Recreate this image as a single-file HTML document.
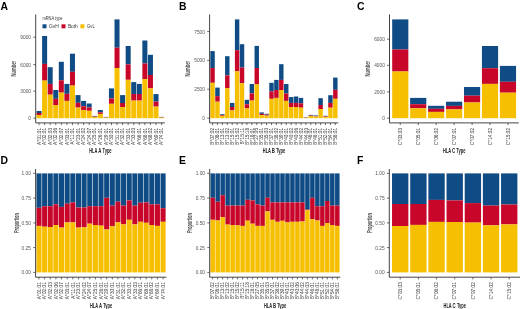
<!DOCTYPE html><html><head><meta charset="utf-8"><style>html,body{margin:0;padding:0;background:#fff;}svg{display:block;will-change:transform;filter:blur(0.3px);}</style></head><body>
<svg width="520" height="309" viewBox="0 0 520 309" font-family='"Liberation Sans", sans-serif'>
<rect width="520" height="309" fill="#fff"/>
<rect x="36.54" y="111" width="5.01" height="2" fill="#0F4B84"/>
<rect x="36.54" y="113" width="5.01" height="2" fill="#C8062A"/>
<rect x="36.54" y="115" width="5.01" height="3.2" fill="#F6BF00"/>
<rect x="42.11" y="36" width="5.01" height="27.9" fill="#0F4B84"/>
<rect x="42.11" y="63.9" width="5.01" height="16.7" fill="#C8062A"/>
<rect x="42.11" y="80.6" width="5.01" height="37.6" fill="#F6BF00"/>
<rect x="47.68" y="67.2" width="5.01" height="16.7" fill="#0F4B84"/>
<rect x="47.68" y="83.9" width="5.01" height="10.8" fill="#C8062A"/>
<rect x="47.68" y="94.7" width="5.01" height="23.5" fill="#F6BF00"/>
<rect x="53.25" y="90" width="5.01" height="8.8" fill="#0F4B84"/>
<rect x="53.25" y="98.8" width="5.01" height="6.2" fill="#C8062A"/>
<rect x="53.25" y="105" width="5.01" height="13.2" fill="#F6BF00"/>
<rect x="58.82" y="61.8" width="5.01" height="18.5" fill="#0F4B84"/>
<rect x="58.82" y="80.3" width="5.01" height="12.3" fill="#C8062A"/>
<rect x="58.82" y="92.6" width="5.01" height="25.6" fill="#F6BF00"/>
<rect x="64.39" y="83.9" width="5.01" height="9.9" fill="#0F4B84"/>
<rect x="64.39" y="93.8" width="5.01" height="7.1" fill="#C8062A"/>
<rect x="64.39" y="100.9" width="5.01" height="17.3" fill="#F6BF00"/>
<rect x="69.96" y="53.7" width="5.01" height="18.1" fill="#0F4B84"/>
<rect x="69.96" y="71.8" width="5.01" height="13.8" fill="#C8062A"/>
<rect x="69.96" y="85.6" width="5.01" height="32.6" fill="#F6BF00"/>
<rect x="75.53" y="95.1" width="5.01" height="7.7" fill="#0F4B84"/>
<rect x="75.53" y="102.8" width="5.01" height="4.8" fill="#C8062A"/>
<rect x="75.53" y="107.6" width="5.01" height="10.6" fill="#F6BF00"/>
<rect x="81.1" y="100.9" width="5.01" height="5.4" fill="#0F4B84"/>
<rect x="81.1" y="106.3" width="5.01" height="3.8" fill="#C8062A"/>
<rect x="81.1" y="110.1" width="5.01" height="8.1" fill="#F6BF00"/>
<rect x="86.67" y="103.5" width="5.01" height="3.9" fill="#0F4B84"/>
<rect x="86.67" y="107.4" width="5.01" height="3.4" fill="#C8062A"/>
<rect x="86.67" y="110.8" width="5.01" height="7.4" fill="#F6BF00"/>
<rect x="92.24" y="115.9" width="5.01" height="0.6" fill="#0F4B84"/>
<rect x="92.24" y="116.5" width="5.01" height="0.4" fill="#C8062A"/>
<rect x="92.24" y="116.9" width="5.01" height="1.3" fill="#F6BF00"/>
<rect x="97.81" y="110" width="5.01" height="2.3" fill="#0F4B84"/>
<rect x="97.81" y="112.3" width="5.01" height="1.6" fill="#C8062A"/>
<rect x="97.81" y="113.9" width="5.01" height="4.3" fill="#F6BF00"/>
<rect x="103.38" y="116.9" width="5.01" height="0.4" fill="#0F4B84"/>
<rect x="103.38" y="117.3" width="5.01" height="0.3" fill="#C8062A"/>
<rect x="103.38" y="117.6" width="5.01" height="0.6" fill="#F6BF00"/>
<rect x="108.95" y="88.4" width="5.01" height="10" fill="#0F4B84"/>
<rect x="108.95" y="98.4" width="5.01" height="5.4" fill="#C8062A"/>
<rect x="108.95" y="103.8" width="5.01" height="14.4" fill="#F6BF00"/>
<rect x="114.52" y="19.4" width="5.01" height="28.3" fill="#0F4B84"/>
<rect x="114.52" y="47.7" width="5.01" height="20.3" fill="#C8062A"/>
<rect x="114.52" y="68" width="5.01" height="50.2" fill="#F6BF00"/>
<rect x="120.09" y="95.1" width="5.01" height="7.9" fill="#0F4B84"/>
<rect x="120.09" y="103" width="5.01" height="4" fill="#C8062A"/>
<rect x="120.09" y="107" width="5.01" height="11.2" fill="#F6BF00"/>
<rect x="125.66" y="46" width="5.01" height="18.4" fill="#0F4B84"/>
<rect x="125.66" y="64.4" width="5.01" height="15.4" fill="#C8062A"/>
<rect x="125.66" y="79.8" width="5.01" height="38.4" fill="#F6BF00"/>
<rect x="131.23" y="82.1" width="5.01" height="11.9" fill="#0F4B84"/>
<rect x="131.23" y="94" width="5.01" height="6.6" fill="#C8062A"/>
<rect x="131.23" y="100.6" width="5.01" height="17.6" fill="#F6BF00"/>
<rect x="136.8" y="83.9" width="5.01" height="10.1" fill="#0F4B84"/>
<rect x="136.8" y="94" width="5.01" height="6.6" fill="#C8062A"/>
<rect x="136.8" y="100.6" width="5.01" height="17.6" fill="#F6BF00"/>
<rect x="142.37" y="40.5" width="5.01" height="23" fill="#0F4B84"/>
<rect x="142.37" y="63.5" width="5.01" height="15.6" fill="#C8062A"/>
<rect x="142.37" y="79.1" width="5.01" height="39.1" fill="#F6BF00"/>
<rect x="147.94" y="54.8" width="5.01" height="20.2" fill="#0F4B84"/>
<rect x="147.94" y="75" width="5.01" height="13.4" fill="#C8062A"/>
<rect x="147.94" y="88.4" width="5.01" height="29.8" fill="#F6BF00"/>
<rect x="153.51" y="94.1" width="5.01" height="7.5" fill="#0F4B84"/>
<rect x="153.51" y="101.6" width="5.01" height="5" fill="#C8062A"/>
<rect x="153.51" y="106.6" width="5.01" height="11.6" fill="#F6BF00"/>
<rect x="159.08" y="116.9" width="5.01" height="0.4" fill="#0F4B84"/>
<rect x="159.08" y="117.3" width="5.01" height="0.3" fill="#C8062A"/>
<rect x="159.08" y="117.6" width="5.01" height="0.6" fill="#F6BF00"/>
<path d="M35.7 14.4V122.9H164.9" fill="none" stroke="#454545" stroke-width="1"/>
<line x1="33.3" y1="118.2" x2="35.7" y2="118.2" stroke="#454545" stroke-width="0.8"/>
<text x="31" y="120.2" text-anchor="end" font-size="4.8" fill="#555555">0</text>
<line x1="33.3" y1="91.2" x2="35.7" y2="91.2" stroke="#454545" stroke-width="0.8"/>
<text x="31" y="93.2" text-anchor="end" font-size="4.8" fill="#555555">3000</text>
<line x1="33.3" y1="64.6" x2="35.7" y2="64.6" stroke="#454545" stroke-width="0.8"/>
<text x="31" y="66.6" text-anchor="end" font-size="4.8" fill="#555555">6000</text>
<line x1="33.3" y1="37.2" x2="35.7" y2="37.2" stroke="#454545" stroke-width="0.8"/>
<text x="31" y="39.2" text-anchor="end" font-size="4.8" fill="#555555">9000</text>
<line x1="39.04" y1="122.9" x2="39.04" y2="125.1" stroke="#454545" stroke-width="0.8"/>
<text transform="translate(40.74 127.8) rotate(-90)" text-anchor="end" font-size="4.8" fill="#3d3d3d">A*01:01</text>
<line x1="44.61" y1="122.9" x2="44.61" y2="125.1" stroke="#454545" stroke-width="0.8"/>
<text transform="translate(46.31 127.8) rotate(-90)" text-anchor="end" font-size="4.8" fill="#3d3d3d">A*02:01</text>
<line x1="50.18" y1="122.9" x2="50.18" y2="125.1" stroke="#454545" stroke-width="0.8"/>
<text transform="translate(51.88 127.8) rotate(-90)" text-anchor="end" font-size="4.8" fill="#3d3d3d">A*02:03</text>
<line x1="55.75" y1="122.9" x2="55.75" y2="125.1" stroke="#454545" stroke-width="0.8"/>
<text transform="translate(57.45 127.8) rotate(-90)" text-anchor="end" font-size="4.8" fill="#3d3d3d">A*02:06</text>
<line x1="61.32" y1="122.9" x2="61.32" y2="125.1" stroke="#454545" stroke-width="0.8"/>
<text transform="translate(63.02 127.8) rotate(-90)" text-anchor="end" font-size="4.8" fill="#3d3d3d">A*02:07</text>
<line x1="66.89" y1="122.9" x2="66.89" y2="125.1" stroke="#454545" stroke-width="0.8"/>
<text transform="translate(68.59 127.8) rotate(-90)" text-anchor="end" font-size="4.8" fill="#3d3d3d">A*03:01</text>
<line x1="72.46" y1="122.9" x2="72.46" y2="125.1" stroke="#454545" stroke-width="0.8"/>
<text transform="translate(74.16 127.8) rotate(-90)" text-anchor="end" font-size="4.8" fill="#3d3d3d">A*11:01</text>
<line x1="78.03" y1="122.9" x2="78.03" y2="125.1" stroke="#454545" stroke-width="0.8"/>
<text transform="translate(79.73 127.8) rotate(-90)" text-anchor="end" font-size="4.8" fill="#3d3d3d">A*23:01</text>
<line x1="83.6" y1="122.9" x2="83.6" y2="125.1" stroke="#454545" stroke-width="0.8"/>
<text transform="translate(85.3 127.8) rotate(-90)" text-anchor="end" font-size="4.8" fill="#3d3d3d">A*24:02</text>
<line x1="89.17" y1="122.9" x2="89.17" y2="125.1" stroke="#454545" stroke-width="0.8"/>
<text transform="translate(90.87 127.8) rotate(-90)" text-anchor="end" font-size="4.8" fill="#3d3d3d">A*24:07</text>
<line x1="94.74" y1="122.9" x2="94.74" y2="125.1" stroke="#454545" stroke-width="0.8"/>
<text transform="translate(96.44 127.8) rotate(-90)" text-anchor="end" font-size="4.8" fill="#3d3d3d">A*25:01</text>
<line x1="100.31" y1="122.9" x2="100.31" y2="125.1" stroke="#454545" stroke-width="0.8"/>
<text transform="translate(102.01 127.8) rotate(-90)" text-anchor="end" font-size="4.8" fill="#3d3d3d">A*26:01</text>
<line x1="105.88" y1="122.9" x2="105.88" y2="125.1" stroke="#454545" stroke-width="0.8"/>
<text transform="translate(107.58 127.8) rotate(-90)" text-anchor="end" font-size="4.8" fill="#3d3d3d">A*29:01</text>
<line x1="111.45" y1="122.9" x2="111.45" y2="125.1" stroke="#454545" stroke-width="0.8"/>
<text transform="translate(113.15 127.8) rotate(-90)" text-anchor="end" font-size="4.8" fill="#3d3d3d">A*30:01</text>
<line x1="117.02" y1="122.9" x2="117.02" y2="125.1" stroke="#454545" stroke-width="0.8"/>
<text transform="translate(118.72 127.8) rotate(-90)" text-anchor="end" font-size="4.8" fill="#3d3d3d">A*31:01</text>
<line x1="122.59" y1="122.9" x2="122.59" y2="125.1" stroke="#454545" stroke-width="0.8"/>
<text transform="translate(124.29 127.8) rotate(-90)" text-anchor="end" font-size="4.8" fill="#3d3d3d">A*32:01</text>
<line x1="128.16" y1="122.9" x2="128.16" y2="125.1" stroke="#454545" stroke-width="0.8"/>
<text transform="translate(129.86 127.8) rotate(-90)" text-anchor="end" font-size="4.8" fill="#3d3d3d">A*33:01</text>
<line x1="133.73" y1="122.9" x2="133.73" y2="125.1" stroke="#454545" stroke-width="0.8"/>
<text transform="translate(135.43 127.8) rotate(-90)" text-anchor="end" font-size="4.8" fill="#3d3d3d">A*33:03</text>
<line x1="139.3" y1="122.9" x2="139.3" y2="125.1" stroke="#454545" stroke-width="0.8"/>
<text transform="translate(141 127.8) rotate(-90)" text-anchor="end" font-size="4.8" fill="#3d3d3d">A*66:01</text>
<line x1="144.87" y1="122.9" x2="144.87" y2="125.1" stroke="#454545" stroke-width="0.8"/>
<text transform="translate(146.57 127.8) rotate(-90)" text-anchor="end" font-size="4.8" fill="#3d3d3d">A*68:01</text>
<line x1="150.44" y1="122.9" x2="150.44" y2="125.1" stroke="#454545" stroke-width="0.8"/>
<text transform="translate(152.14 127.8) rotate(-90)" text-anchor="end" font-size="4.8" fill="#3d3d3d">A*68:02</text>
<line x1="156.01" y1="122.9" x2="156.01" y2="125.1" stroke="#454545" stroke-width="0.8"/>
<text transform="translate(157.71 127.8) rotate(-90)" text-anchor="end" font-size="4.8" fill="#3d3d3d">A*69:01</text>
<line x1="161.58" y1="122.9" x2="161.58" y2="125.1" stroke="#454545" stroke-width="0.8"/>
<text transform="translate(163.28 127.8) rotate(-90)" text-anchor="end" font-size="4.8" fill="#3d3d3d">A*74:01</text>
<text x="89.2" y="153.4" font-size="6.8" font-weight="bold" fill="#222" textLength="8.1" lengthAdjust="spacingAndGlyphs">HLA</text>
<text x="98.2" y="153.4" font-size="6.8" font-weight="bold" fill="#222" textLength="3.1" lengthAdjust="spacingAndGlyphs">A</text>
<text x="102.5" y="153.4" font-size="6.8" font-weight="bold" fill="#222" textLength="9.1" lengthAdjust="spacingAndGlyphs">Type</text>
<text transform="translate(16.2 68.65) rotate(-90)" text-anchor="middle" font-size="6.5" font-weight="bold" fill="#4a4a4a" textLength="15.5" lengthAdjust="spacingAndGlyphs">Number</text>
<text x="0.4" y="9.7" font-size="10.4" font-weight="bold" fill="#000">A</text>
<rect x="210.34" y="51.1" width="4.42" height="16.9" fill="#0F4B84"/>
<rect x="210.34" y="68" width="4.42" height="14.8" fill="#C8062A"/>
<rect x="210.34" y="82.8" width="4.42" height="35.4" fill="#F6BF00"/>
<rect x="215.25" y="87.6" width="4.42" height="8.5" fill="#0F4B84"/>
<rect x="215.25" y="96.1" width="4.42" height="5.6" fill="#C8062A"/>
<rect x="215.25" y="101.7" width="4.42" height="16.5" fill="#F6BF00"/>
<rect x="220.16" y="114.2" width="4.42" height="0.8" fill="#0F4B84"/>
<rect x="220.16" y="115" width="4.42" height="0.8" fill="#C8062A"/>
<rect x="220.16" y="115.8" width="4.42" height="2.4" fill="#F6BF00"/>
<rect x="225.07" y="56.2" width="4.42" height="19.2" fill="#0F4B84"/>
<rect x="225.07" y="75.4" width="4.42" height="12.8" fill="#C8062A"/>
<rect x="225.07" y="88.2" width="4.42" height="30" fill="#F6BF00"/>
<rect x="229.98" y="102.9" width="4.42" height="4.1" fill="#0F4B84"/>
<rect x="229.98" y="107" width="4.42" height="3.4" fill="#C8062A"/>
<rect x="229.98" y="110.4" width="4.42" height="7.8" fill="#F6BF00"/>
<rect x="234.9" y="19.4" width="4.42" height="30.8" fill="#0F4B84"/>
<rect x="234.9" y="50.2" width="4.42" height="21.1" fill="#C8062A"/>
<rect x="234.9" y="71.3" width="4.42" height="46.9" fill="#F6BF00"/>
<rect x="239.81" y="44.2" width="4.42" height="23.4" fill="#0F4B84"/>
<rect x="239.81" y="67.6" width="4.42" height="15.6" fill="#C8062A"/>
<rect x="239.81" y="83.2" width="4.42" height="35" fill="#F6BF00"/>
<rect x="244.72" y="99.8" width="4.42" height="4.5" fill="#0F4B84"/>
<rect x="244.72" y="104.3" width="4.42" height="4.1" fill="#C8062A"/>
<rect x="244.72" y="108.4" width="4.42" height="9.8" fill="#F6BF00"/>
<rect x="249.63" y="84" width="4.42" height="9.4" fill="#0F4B84"/>
<rect x="249.63" y="93.4" width="4.42" height="7.2" fill="#C8062A"/>
<rect x="249.63" y="100.6" width="4.42" height="17.6" fill="#F6BF00"/>
<rect x="254.54" y="45.9" width="4.42" height="22.1" fill="#0F4B84"/>
<rect x="254.54" y="68" width="4.42" height="16.4" fill="#C8062A"/>
<rect x="254.54" y="84.4" width="4.42" height="33.8" fill="#F6BF00"/>
<rect x="259.46" y="112.4" width="4.42" height="1.4" fill="#0F4B84"/>
<rect x="259.46" y="113.8" width="4.42" height="1.3" fill="#C8062A"/>
<rect x="259.46" y="115.1" width="4.42" height="3.1" fill="#F6BF00"/>
<rect x="264.37" y="113.8" width="4.42" height="0.9" fill="#0F4B84"/>
<rect x="264.37" y="114.7" width="4.42" height="0.9" fill="#C8062A"/>
<rect x="264.37" y="115.6" width="4.42" height="2.6" fill="#F6BF00"/>
<rect x="269.28" y="82.8" width="4.42" height="8.6" fill="#0F4B84"/>
<rect x="269.28" y="91.4" width="4.42" height="7.4" fill="#C8062A"/>
<rect x="269.28" y="98.8" width="4.42" height="19.4" fill="#F6BF00"/>
<rect x="274.19" y="79.9" width="4.42" height="10.1" fill="#0F4B84"/>
<rect x="274.19" y="90" width="4.42" height="7.9" fill="#C8062A"/>
<rect x="274.19" y="97.9" width="4.42" height="20.3" fill="#F6BF00"/>
<rect x="279.1" y="64.2" width="4.42" height="15.7" fill="#0F4B84"/>
<rect x="279.1" y="79.9" width="4.42" height="10.1" fill="#C8062A"/>
<rect x="279.1" y="90" width="4.42" height="28.2" fill="#F6BF00"/>
<rect x="284.02" y="84" width="4.42" height="9.5" fill="#0F4B84"/>
<rect x="284.02" y="93.5" width="4.42" height="7.4" fill="#C8062A"/>
<rect x="284.02" y="100.9" width="4.42" height="17.3" fill="#F6BF00"/>
<rect x="288.93" y="97.1" width="4.42" height="5.8" fill="#0F4B84"/>
<rect x="288.93" y="102.9" width="4.42" height="4.1" fill="#C8062A"/>
<rect x="288.93" y="107" width="4.42" height="11.2" fill="#F6BF00"/>
<rect x="293.84" y="96.5" width="4.42" height="6.4" fill="#0F4B84"/>
<rect x="293.84" y="102.9" width="4.42" height="4.1" fill="#C8062A"/>
<rect x="293.84" y="107" width="4.42" height="11.2" fill="#F6BF00"/>
<rect x="298.75" y="97.9" width="4.42" height="5.4" fill="#0F4B84"/>
<rect x="298.75" y="103.3" width="4.42" height="4.4" fill="#C8062A"/>
<rect x="298.75" y="107.7" width="4.42" height="10.5" fill="#F6BF00"/>
<rect x="303.66" y="117.2" width="4.42" height="0.3" fill="#0F4B84"/>
<rect x="303.66" y="117.5" width="4.42" height="0.3" fill="#C8062A"/>
<rect x="303.66" y="117.8" width="4.42" height="0.4" fill="#F6BF00"/>
<rect x="308.58" y="114.9" width="4.42" height="0.7" fill="#0F4B84"/>
<rect x="308.58" y="115.6" width="4.42" height="0.4" fill="#C8062A"/>
<rect x="308.58" y="116" width="4.42" height="2.2" fill="#F6BF00"/>
<rect x="313.49" y="115.4" width="4.42" height="0.6" fill="#0F4B84"/>
<rect x="313.49" y="116" width="4.42" height="0.5" fill="#C8062A"/>
<rect x="313.49" y="116.5" width="4.42" height="1.7" fill="#F6BF00"/>
<rect x="318.4" y="98.2" width="4.42" height="6.8" fill="#0F4B84"/>
<rect x="318.4" y="105" width="4.42" height="4" fill="#C8062A"/>
<rect x="318.4" y="109" width="4.42" height="9.2" fill="#F6BF00"/>
<rect x="323.31" y="115.8" width="4.42" height="0.6" fill="#0F4B84"/>
<rect x="323.31" y="116.4" width="4.42" height="0.5" fill="#C8062A"/>
<rect x="323.31" y="116.9" width="4.42" height="1.3" fill="#F6BF00"/>
<rect x="328.22" y="95.2" width="4.42" height="7.7" fill="#0F4B84"/>
<rect x="328.22" y="102.9" width="4.42" height="4.8" fill="#C8062A"/>
<rect x="328.22" y="107.7" width="4.42" height="10.5" fill="#F6BF00"/>
<rect x="333.14" y="77.6" width="4.42" height="12.2" fill="#0F4B84"/>
<rect x="333.14" y="89.8" width="4.42" height="9" fill="#C8062A"/>
<rect x="333.14" y="98.8" width="4.42" height="19.4" fill="#F6BF00"/>
<path d="M209.6 14.4V122.9H338.3" fill="none" stroke="#454545" stroke-width="1"/>
<line x1="207.2" y1="118.2" x2="209.6" y2="118.2" stroke="#454545" stroke-width="0.8"/>
<text x="204.9" y="120.2" text-anchor="end" font-size="4.8" fill="#555555">0</text>
<line x1="207.2" y1="89.2" x2="209.6" y2="89.2" stroke="#454545" stroke-width="0.8"/>
<text x="204.9" y="91.2" text-anchor="end" font-size="4.8" fill="#555555">2500</text>
<line x1="207.2" y1="60.4" x2="209.6" y2="60.4" stroke="#454545" stroke-width="0.8"/>
<text x="204.9" y="62.4" text-anchor="end" font-size="4.8" fill="#555555">5000</text>
<line x1="207.2" y1="31.6" x2="209.6" y2="31.6" stroke="#454545" stroke-width="0.8"/>
<text x="204.9" y="33.6" text-anchor="end" font-size="4.8" fill="#555555">7500</text>
<line x1="212.55" y1="122.9" x2="212.55" y2="125.1" stroke="#454545" stroke-width="0.8"/>
<text transform="translate(214.25 127.8) rotate(-90)" text-anchor="end" font-size="4.8" fill="#3d3d3d">B*07:02</text>
<line x1="217.46" y1="122.9" x2="217.46" y2="125.1" stroke="#454545" stroke-width="0.8"/>
<text transform="translate(219.16 127.8) rotate(-90)" text-anchor="end" font-size="4.8" fill="#3d3d3d">B*08:01</text>
<line x1="222.37" y1="122.9" x2="222.37" y2="125.1" stroke="#454545" stroke-width="0.8"/>
<text transform="translate(224.07 127.8) rotate(-90)" text-anchor="end" font-size="4.8" fill="#3d3d3d">B*13:01</text>
<line x1="227.28" y1="122.9" x2="227.28" y2="125.1" stroke="#454545" stroke-width="0.8"/>
<text transform="translate(228.98 127.8) rotate(-90)" text-anchor="end" font-size="4.8" fill="#3d3d3d">B*13:02</text>
<line x1="232.2" y1="122.9" x2="232.2" y2="125.1" stroke="#454545" stroke-width="0.8"/>
<text transform="translate(233.9 127.8) rotate(-90)" text-anchor="end" font-size="4.8" fill="#3d3d3d">B*15:01</text>
<line x1="237.11" y1="122.9" x2="237.11" y2="125.1" stroke="#454545" stroke-width="0.8"/>
<text transform="translate(238.81 127.8) rotate(-90)" text-anchor="end" font-size="4.8" fill="#3d3d3d">B*15:02</text>
<line x1="242.02" y1="122.9" x2="242.02" y2="125.1" stroke="#454545" stroke-width="0.8"/>
<text transform="translate(243.72 127.8) rotate(-90)" text-anchor="end" font-size="4.8" fill="#3d3d3d">B*15:11</text>
<line x1="246.93" y1="122.9" x2="246.93" y2="125.1" stroke="#454545" stroke-width="0.8"/>
<text transform="translate(248.63 127.8) rotate(-90)" text-anchor="end" font-size="4.8" fill="#3d3d3d">B*15:18</text>
<line x1="251.84" y1="122.9" x2="251.84" y2="125.1" stroke="#454545" stroke-width="0.8"/>
<text transform="translate(253.54 127.8) rotate(-90)" text-anchor="end" font-size="4.8" fill="#3d3d3d">B*18:01</text>
<line x1="256.76" y1="122.9" x2="256.76" y2="125.1" stroke="#454545" stroke-width="0.8"/>
<text transform="translate(258.46 127.8) rotate(-90)" text-anchor="end" font-size="4.8" fill="#3d3d3d">B*27:05</text>
<line x1="261.67" y1="122.9" x2="261.67" y2="125.1" stroke="#454545" stroke-width="0.8"/>
<text transform="translate(263.37 127.8) rotate(-90)" text-anchor="end" font-size="4.8" fill="#3d3d3d">B*35:01</text>
<line x1="266.58" y1="122.9" x2="266.58" y2="125.1" stroke="#454545" stroke-width="0.8"/>
<text transform="translate(268.28 127.8) rotate(-90)" text-anchor="end" font-size="4.8" fill="#3d3d3d">B*35:03</text>
<line x1="271.49" y1="122.9" x2="271.49" y2="125.1" stroke="#454545" stroke-width="0.8"/>
<text transform="translate(273.19 127.8) rotate(-90)" text-anchor="end" font-size="4.8" fill="#3d3d3d">B*37:01</text>
<line x1="276.4" y1="122.9" x2="276.4" y2="125.1" stroke="#454545" stroke-width="0.8"/>
<text transform="translate(278.1 127.8) rotate(-90)" text-anchor="end" font-size="4.8" fill="#3d3d3d">B*38:02</text>
<line x1="281.32" y1="122.9" x2="281.32" y2="125.1" stroke="#454545" stroke-width="0.8"/>
<text transform="translate(283.02 127.8) rotate(-90)" text-anchor="end" font-size="4.8" fill="#3d3d3d">B*39:01</text>
<line x1="286.23" y1="122.9" x2="286.23" y2="125.1" stroke="#454545" stroke-width="0.8"/>
<text transform="translate(287.93 127.8) rotate(-90)" text-anchor="end" font-size="4.8" fill="#3d3d3d">B*40:01</text>
<line x1="291.14" y1="122.9" x2="291.14" y2="125.1" stroke="#454545" stroke-width="0.8"/>
<text transform="translate(292.84 127.8) rotate(-90)" text-anchor="end" font-size="4.8" fill="#3d3d3d">B*40:02</text>
<line x1="296.05" y1="122.9" x2="296.05" y2="125.1" stroke="#454545" stroke-width="0.8"/>
<text transform="translate(297.75 127.8) rotate(-90)" text-anchor="end" font-size="4.8" fill="#3d3d3d">B*40:06</text>
<line x1="300.96" y1="122.9" x2="300.96" y2="125.1" stroke="#454545" stroke-width="0.8"/>
<text transform="translate(302.66 127.8) rotate(-90)" text-anchor="end" font-size="4.8" fill="#3d3d3d">B*44:02</text>
<line x1="305.88" y1="122.9" x2="305.88" y2="125.1" stroke="#454545" stroke-width="0.8"/>
<text transform="translate(307.58 127.8) rotate(-90)" text-anchor="end" font-size="4.8" fill="#3d3d3d">B*44:03</text>
<line x1="310.79" y1="122.9" x2="310.79" y2="125.1" stroke="#454545" stroke-width="0.8"/>
<text transform="translate(312.49 127.8) rotate(-90)" text-anchor="end" font-size="4.8" fill="#3d3d3d">B*46:01</text>
<line x1="315.7" y1="122.9" x2="315.7" y2="125.1" stroke="#454545" stroke-width="0.8"/>
<text transform="translate(317.4 127.8) rotate(-90)" text-anchor="end" font-size="4.8" fill="#3d3d3d">B*48:01</text>
<line x1="320.61" y1="122.9" x2="320.61" y2="125.1" stroke="#454545" stroke-width="0.8"/>
<text transform="translate(322.31 127.8) rotate(-90)" text-anchor="end" font-size="4.8" fill="#3d3d3d">B*51:01</text>
<line x1="325.52" y1="122.9" x2="325.52" y2="125.1" stroke="#454545" stroke-width="0.8"/>
<text transform="translate(327.22 127.8) rotate(-90)" text-anchor="end" font-size="4.8" fill="#3d3d3d">B*52:01</text>
<line x1="330.44" y1="122.9" x2="330.44" y2="125.1" stroke="#454545" stroke-width="0.8"/>
<text transform="translate(332.14 127.8) rotate(-90)" text-anchor="end" font-size="4.8" fill="#3d3d3d">B*54:01</text>
<line x1="335.35" y1="122.9" x2="335.35" y2="125.1" stroke="#454545" stroke-width="0.8"/>
<text transform="translate(337.05 127.8) rotate(-90)" text-anchor="end" font-size="4.8" fill="#3d3d3d">B*58:01</text>
<text x="262.85" y="153.4" font-size="6.8" font-weight="bold" fill="#222" textLength="8.1" lengthAdjust="spacingAndGlyphs">HLA</text>
<text x="271.85" y="153.4" font-size="6.8" font-weight="bold" fill="#222" textLength="3.1" lengthAdjust="spacingAndGlyphs">B</text>
<text x="276.15" y="153.4" font-size="6.8" font-weight="bold" fill="#222" textLength="9.1" lengthAdjust="spacingAndGlyphs">Type</text>
<text transform="translate(190.1 68.65) rotate(-90)" text-anchor="middle" font-size="6.5" font-weight="bold" fill="#4a4a4a" textLength="15.5" lengthAdjust="spacingAndGlyphs">Number</text>
<text x="179" y="9.7" font-size="10.4" font-weight="bold" fill="#000">B</text>
<rect x="392.19" y="19.4" width="16.16" height="30.1" fill="#0F4B84"/>
<rect x="392.19" y="49.5" width="16.16" height="22" fill="#C8062A"/>
<rect x="392.19" y="71.5" width="16.16" height="46.7" fill="#F6BF00"/>
<rect x="410.14" y="97.9" width="16.16" height="6.3" fill="#0F4B84"/>
<rect x="410.14" y="104.2" width="16.16" height="4.1" fill="#C8062A"/>
<rect x="410.14" y="108.3" width="16.16" height="9.9" fill="#F6BF00"/>
<rect x="428.09" y="105.8" width="16.16" height="3" fill="#0F4B84"/>
<rect x="428.09" y="108.8" width="16.16" height="3.1" fill="#C8062A"/>
<rect x="428.09" y="111.9" width="16.16" height="6.3" fill="#F6BF00"/>
<rect x="446.04" y="101.7" width="16.16" height="4.2" fill="#0F4B84"/>
<rect x="446.04" y="105.9" width="16.16" height="3.5" fill="#C8062A"/>
<rect x="446.04" y="109.4" width="16.16" height="8.8" fill="#F6BF00"/>
<rect x="463.99" y="87" width="16.16" height="8.7" fill="#0F4B84"/>
<rect x="463.99" y="95.7" width="16.16" height="6.8" fill="#C8062A"/>
<rect x="463.99" y="102.5" width="16.16" height="15.7" fill="#F6BF00"/>
<rect x="481.94" y="46" width="16.16" height="22.2" fill="#0F4B84"/>
<rect x="481.94" y="68.2" width="16.16" height="15.7" fill="#C8062A"/>
<rect x="481.94" y="83.9" width="16.16" height="34.3" fill="#F6BF00"/>
<rect x="499.89" y="65.9" width="16.16" height="15.9" fill="#0F4B84"/>
<rect x="499.89" y="81.8" width="16.16" height="10.9" fill="#C8062A"/>
<rect x="499.89" y="92.7" width="16.16" height="25.5" fill="#F6BF00"/>
<path d="M389.5 14.4V122.9H518.7" fill="none" stroke="#454545" stroke-width="1"/>
<line x1="387.1" y1="118.2" x2="389.5" y2="118.2" stroke="#454545" stroke-width="0.8"/>
<text x="384.8" y="120.2" text-anchor="end" font-size="4.8" fill="#555555">0</text>
<line x1="387.1" y1="91.9" x2="389.5" y2="91.9" stroke="#454545" stroke-width="0.8"/>
<text x="384.8" y="93.9" text-anchor="end" font-size="4.8" fill="#555555">2000</text>
<line x1="387.1" y1="65.3" x2="389.5" y2="65.3" stroke="#454545" stroke-width="0.8"/>
<text x="384.8" y="67.3" text-anchor="end" font-size="4.8" fill="#555555">4000</text>
<line x1="387.1" y1="39.2" x2="389.5" y2="39.2" stroke="#454545" stroke-width="0.8"/>
<text x="384.8" y="41.2" text-anchor="end" font-size="4.8" fill="#555555">6000</text>
<line x1="400.27" y1="122.9" x2="400.27" y2="125.1" stroke="#454545" stroke-width="0.8"/>
<text transform="translate(401.97 127.8) rotate(-90)" text-anchor="end" font-size="4.8" fill="#3d3d3d">C*03:03</text>
<line x1="418.22" y1="122.9" x2="418.22" y2="125.1" stroke="#454545" stroke-width="0.8"/>
<text transform="translate(419.92 127.8) rotate(-90)" text-anchor="end" font-size="4.8" fill="#3d3d3d">C*05:01</text>
<line x1="436.17" y1="122.9" x2="436.17" y2="125.1" stroke="#454545" stroke-width="0.8"/>
<text transform="translate(437.87 127.8) rotate(-90)" text-anchor="end" font-size="4.8" fill="#3d3d3d">C*06:02</text>
<line x1="454.12" y1="122.9" x2="454.12" y2="125.1" stroke="#454545" stroke-width="0.8"/>
<text transform="translate(455.82 127.8) rotate(-90)" text-anchor="end" font-size="4.8" fill="#3d3d3d">C*07:01</text>
<line x1="472.07" y1="122.9" x2="472.07" y2="125.1" stroke="#454545" stroke-width="0.8"/>
<text transform="translate(473.77 127.8) rotate(-90)" text-anchor="end" font-size="4.8" fill="#3d3d3d">C*07:02</text>
<line x1="490.02" y1="122.9" x2="490.02" y2="125.1" stroke="#454545" stroke-width="0.8"/>
<text transform="translate(491.72 127.8) rotate(-90)" text-anchor="end" font-size="4.8" fill="#3d3d3d">C*14:02</text>
<line x1="507.97" y1="122.9" x2="507.97" y2="125.1" stroke="#454545" stroke-width="0.8"/>
<text transform="translate(509.67 127.8) rotate(-90)" text-anchor="end" font-size="4.8" fill="#3d3d3d">C*15:02</text>
<text x="443" y="153.4" font-size="6.8" font-weight="bold" fill="#222" textLength="8.1" lengthAdjust="spacingAndGlyphs">HLA</text>
<text x="452" y="153.4" font-size="6.8" font-weight="bold" fill="#222" textLength="3.1" lengthAdjust="spacingAndGlyphs">C</text>
<text x="456.3" y="153.4" font-size="6.8" font-weight="bold" fill="#222" textLength="9.1" lengthAdjust="spacingAndGlyphs">Type</text>
<text transform="translate(370 68.65) rotate(-90)" text-anchor="middle" font-size="6.5" font-weight="bold" fill="#4a4a4a" textLength="15.5" lengthAdjust="spacingAndGlyphs">Number</text>
<text x="357" y="9.7" font-size="10.4" font-weight="bold" fill="#000">C</text>
<rect x="36.45" y="173.4" width="5.08" height="34.4" fill="#0F4B84"/>
<rect x="36.45" y="207.8" width="5.08" height="18.1" fill="#C8062A"/>
<rect x="36.45" y="225.9" width="5.08" height="46.5" fill="#F6BF00"/>
<rect x="42.09" y="173.4" width="5.08" height="32.8" fill="#0F4B84"/>
<rect x="42.09" y="206.2" width="5.08" height="20.5" fill="#C8062A"/>
<rect x="42.09" y="226.7" width="5.08" height="45.7" fill="#F6BF00"/>
<rect x="47.73" y="173.4" width="5.08" height="32.8" fill="#0F4B84"/>
<rect x="47.73" y="206.2" width="5.08" height="20.8" fill="#C8062A"/>
<rect x="47.73" y="227" width="5.08" height="45.4" fill="#F6BF00"/>
<rect x="53.37" y="173.4" width="5.08" height="30.9" fill="#0F4B84"/>
<rect x="53.37" y="204.3" width="5.08" height="20.7" fill="#C8062A"/>
<rect x="53.37" y="225" width="5.08" height="47.4" fill="#F6BF00"/>
<rect x="59.01" y="173.4" width="5.08" height="33.5" fill="#0F4B84"/>
<rect x="59.01" y="206.9" width="5.08" height="20.7" fill="#C8062A"/>
<rect x="59.01" y="227.6" width="5.08" height="44.8" fill="#F6BF00"/>
<rect x="64.65" y="173.4" width="5.08" height="30.3" fill="#0F4B84"/>
<rect x="64.65" y="203.7" width="5.08" height="18.7" fill="#C8062A"/>
<rect x="64.65" y="222.4" width="5.08" height="50" fill="#F6BF00"/>
<rect x="70.29" y="173.4" width="5.08" height="29" fill="#0F4B84"/>
<rect x="70.29" y="202.4" width="5.08" height="20" fill="#C8062A"/>
<rect x="70.29" y="222.4" width="5.08" height="50" fill="#F6BF00"/>
<rect x="75.93" y="173.4" width="5.08" height="34.1" fill="#0F4B84"/>
<rect x="75.93" y="207.5" width="5.08" height="20.1" fill="#C8062A"/>
<rect x="75.93" y="227.6" width="5.08" height="44.8" fill="#F6BF00"/>
<rect x="81.57" y="173.4" width="5.08" height="34.1" fill="#0F4B84"/>
<rect x="81.57" y="207.5" width="5.08" height="19.8" fill="#C8062A"/>
<rect x="81.57" y="227.3" width="5.08" height="45.1" fill="#F6BF00"/>
<rect x="87.21" y="173.4" width="5.08" height="32.8" fill="#0F4B84"/>
<rect x="87.21" y="206.2" width="5.08" height="17.5" fill="#C8062A"/>
<rect x="87.21" y="223.7" width="5.08" height="48.7" fill="#F6BF00"/>
<rect x="92.85" y="173.4" width="5.08" height="32.8" fill="#0F4B84"/>
<rect x="92.85" y="206.2" width="5.08" height="18.8" fill="#C8062A"/>
<rect x="92.85" y="225" width="5.08" height="47.4" fill="#F6BF00"/>
<rect x="98.49" y="173.4" width="5.08" height="32.8" fill="#0F4B84"/>
<rect x="98.49" y="206.2" width="5.08" height="19.5" fill="#C8062A"/>
<rect x="98.49" y="225.7" width="5.08" height="46.7" fill="#F6BF00"/>
<rect x="104.13" y="173.4" width="5.08" height="24.4" fill="#0F4B84"/>
<rect x="104.13" y="197.8" width="5.08" height="31.7" fill="#C8062A"/>
<rect x="104.13" y="229.5" width="5.08" height="42.9" fill="#F6BF00"/>
<rect x="109.77" y="173.4" width="5.08" height="32.2" fill="#0F4B84"/>
<rect x="109.77" y="205.6" width="5.08" height="20.7" fill="#C8062A"/>
<rect x="109.77" y="226.3" width="5.08" height="46.1" fill="#F6BF00"/>
<rect x="115.41" y="173.4" width="5.08" height="28.3" fill="#0F4B84"/>
<rect x="115.41" y="201.7" width="5.08" height="20.7" fill="#C8062A"/>
<rect x="115.41" y="222.4" width="5.08" height="50" fill="#F6BF00"/>
<rect x="121.05" y="173.4" width="5.08" height="32.2" fill="#0F4B84"/>
<rect x="121.05" y="205.6" width="5.08" height="18.8" fill="#C8062A"/>
<rect x="121.05" y="224.4" width="5.08" height="48" fill="#F6BF00"/>
<rect x="126.69" y="173.4" width="5.08" height="27" fill="#0F4B84"/>
<rect x="126.69" y="200.4" width="5.08" height="19.4" fill="#C8062A"/>
<rect x="126.69" y="219.8" width="5.08" height="52.6" fill="#F6BF00"/>
<rect x="132.33" y="173.4" width="5.08" height="32.2" fill="#0F4B84"/>
<rect x="132.33" y="205.6" width="5.08" height="18.8" fill="#C8062A"/>
<rect x="132.33" y="224.4" width="5.08" height="48" fill="#F6BF00"/>
<rect x="137.97" y="173.4" width="5.08" height="29.3" fill="#0F4B84"/>
<rect x="137.97" y="202.7" width="5.08" height="19.1" fill="#C8062A"/>
<rect x="137.97" y="221.8" width="5.08" height="50.6" fill="#F6BF00"/>
<rect x="143.61" y="173.4" width="5.08" height="29" fill="#0F4B84"/>
<rect x="143.61" y="202.4" width="5.08" height="20.4" fill="#C8062A"/>
<rect x="143.61" y="222.8" width="5.08" height="49.6" fill="#F6BF00"/>
<rect x="149.25" y="173.4" width="5.08" height="30.9" fill="#0F4B84"/>
<rect x="149.25" y="204.3" width="5.08" height="20.7" fill="#C8062A"/>
<rect x="149.25" y="225" width="5.08" height="47.4" fill="#F6BF00"/>
<rect x="154.89" y="173.4" width="5.08" height="30.9" fill="#0F4B84"/>
<rect x="154.89" y="204.3" width="5.08" height="21.6" fill="#C8062A"/>
<rect x="154.89" y="225.9" width="5.08" height="46.5" fill="#F6BF00"/>
<rect x="160.53" y="173.4" width="5.08" height="34.8" fill="#0F4B84"/>
<rect x="160.53" y="208.2" width="5.08" height="13.6" fill="#C8062A"/>
<rect x="160.53" y="221.8" width="5.08" height="50.6" fill="#F6BF00"/>
<path d="M35.6 169V277.2H166.4" fill="none" stroke="#454545" stroke-width="1"/>
<line x1="33.2" y1="272.4" x2="35.6" y2="272.4" stroke="#454545" stroke-width="0.8"/>
<text x="30.9" y="274.4" text-anchor="end" font-size="4.8" fill="#555555">0.00</text>
<line x1="33.2" y1="247.6" x2="35.6" y2="247.6" stroke="#454545" stroke-width="0.8"/>
<text x="30.9" y="249.6" text-anchor="end" font-size="4.8" fill="#555555">0.25</text>
<line x1="33.2" y1="222.9" x2="35.6" y2="222.9" stroke="#454545" stroke-width="0.8"/>
<text x="30.9" y="224.9" text-anchor="end" font-size="4.8" fill="#555555">0.50</text>
<line x1="33.2" y1="198.1" x2="35.6" y2="198.1" stroke="#454545" stroke-width="0.8"/>
<text x="30.9" y="200.1" text-anchor="end" font-size="4.8" fill="#555555">0.75</text>
<line x1="33.2" y1="173.4" x2="35.6" y2="173.4" stroke="#454545" stroke-width="0.8"/>
<text x="30.9" y="175.4" text-anchor="end" font-size="4.8" fill="#555555">1.00</text>
<line x1="38.98" y1="277.2" x2="38.98" y2="279.4" stroke="#454545" stroke-width="0.8"/>
<text transform="translate(40.68 282.1) rotate(-90)" text-anchor="end" font-size="4.8" fill="#3d3d3d">A*01:01</text>
<line x1="44.62" y1="277.2" x2="44.62" y2="279.4" stroke="#454545" stroke-width="0.8"/>
<text transform="translate(46.32 282.1) rotate(-90)" text-anchor="end" font-size="4.8" fill="#3d3d3d">A*02:01</text>
<line x1="50.26" y1="277.2" x2="50.26" y2="279.4" stroke="#454545" stroke-width="0.8"/>
<text transform="translate(51.96 282.1) rotate(-90)" text-anchor="end" font-size="4.8" fill="#3d3d3d">A*02:03</text>
<line x1="55.9" y1="277.2" x2="55.9" y2="279.4" stroke="#454545" stroke-width="0.8"/>
<text transform="translate(57.6 282.1) rotate(-90)" text-anchor="end" font-size="4.8" fill="#3d3d3d">A*02:06</text>
<line x1="61.54" y1="277.2" x2="61.54" y2="279.4" stroke="#454545" stroke-width="0.8"/>
<text transform="translate(63.24 282.1) rotate(-90)" text-anchor="end" font-size="4.8" fill="#3d3d3d">A*02:07</text>
<line x1="67.18" y1="277.2" x2="67.18" y2="279.4" stroke="#454545" stroke-width="0.8"/>
<text transform="translate(68.88 282.1) rotate(-90)" text-anchor="end" font-size="4.8" fill="#3d3d3d">A*03:01</text>
<line x1="72.82" y1="277.2" x2="72.82" y2="279.4" stroke="#454545" stroke-width="0.8"/>
<text transform="translate(74.52 282.1) rotate(-90)" text-anchor="end" font-size="4.8" fill="#3d3d3d">A*11:01</text>
<line x1="78.46" y1="277.2" x2="78.46" y2="279.4" stroke="#454545" stroke-width="0.8"/>
<text transform="translate(80.16 282.1) rotate(-90)" text-anchor="end" font-size="4.8" fill="#3d3d3d">A*23:01</text>
<line x1="84.1" y1="277.2" x2="84.1" y2="279.4" stroke="#454545" stroke-width="0.8"/>
<text transform="translate(85.8 282.1) rotate(-90)" text-anchor="end" font-size="4.8" fill="#3d3d3d">A*24:02</text>
<line x1="89.74" y1="277.2" x2="89.74" y2="279.4" stroke="#454545" stroke-width="0.8"/>
<text transform="translate(91.44 282.1) rotate(-90)" text-anchor="end" font-size="4.8" fill="#3d3d3d">A*24:07</text>
<line x1="95.38" y1="277.2" x2="95.38" y2="279.4" stroke="#454545" stroke-width="0.8"/>
<text transform="translate(97.08 282.1) rotate(-90)" text-anchor="end" font-size="4.8" fill="#3d3d3d">A*25:01</text>
<line x1="101.02" y1="277.2" x2="101.02" y2="279.4" stroke="#454545" stroke-width="0.8"/>
<text transform="translate(102.72 282.1) rotate(-90)" text-anchor="end" font-size="4.8" fill="#3d3d3d">A*26:01</text>
<line x1="106.66" y1="277.2" x2="106.66" y2="279.4" stroke="#454545" stroke-width="0.8"/>
<text transform="translate(108.36 282.1) rotate(-90)" text-anchor="end" font-size="4.8" fill="#3d3d3d">A*29:01</text>
<line x1="112.3" y1="277.2" x2="112.3" y2="279.4" stroke="#454545" stroke-width="0.8"/>
<text transform="translate(114 282.1) rotate(-90)" text-anchor="end" font-size="4.8" fill="#3d3d3d">A*30:01</text>
<line x1="117.94" y1="277.2" x2="117.94" y2="279.4" stroke="#454545" stroke-width="0.8"/>
<text transform="translate(119.64 282.1) rotate(-90)" text-anchor="end" font-size="4.8" fill="#3d3d3d">A*31:01</text>
<line x1="123.58" y1="277.2" x2="123.58" y2="279.4" stroke="#454545" stroke-width="0.8"/>
<text transform="translate(125.28 282.1) rotate(-90)" text-anchor="end" font-size="4.8" fill="#3d3d3d">A*32:01</text>
<line x1="129.22" y1="277.2" x2="129.22" y2="279.4" stroke="#454545" stroke-width="0.8"/>
<text transform="translate(130.92 282.1) rotate(-90)" text-anchor="end" font-size="4.8" fill="#3d3d3d">A*33:01</text>
<line x1="134.86" y1="277.2" x2="134.86" y2="279.4" stroke="#454545" stroke-width="0.8"/>
<text transform="translate(136.56 282.1) rotate(-90)" text-anchor="end" font-size="4.8" fill="#3d3d3d">A*33:03</text>
<line x1="140.5" y1="277.2" x2="140.5" y2="279.4" stroke="#454545" stroke-width="0.8"/>
<text transform="translate(142.2 282.1) rotate(-90)" text-anchor="end" font-size="4.8" fill="#3d3d3d">A*66:01</text>
<line x1="146.14" y1="277.2" x2="146.14" y2="279.4" stroke="#454545" stroke-width="0.8"/>
<text transform="translate(147.84 282.1) rotate(-90)" text-anchor="end" font-size="4.8" fill="#3d3d3d">A*68:01</text>
<line x1="151.78" y1="277.2" x2="151.78" y2="279.4" stroke="#454545" stroke-width="0.8"/>
<text transform="translate(153.48 282.1) rotate(-90)" text-anchor="end" font-size="4.8" fill="#3d3d3d">A*68:02</text>
<line x1="157.42" y1="277.2" x2="157.42" y2="279.4" stroke="#454545" stroke-width="0.8"/>
<text transform="translate(159.12 282.1) rotate(-90)" text-anchor="end" font-size="4.8" fill="#3d3d3d">A*69:01</text>
<line x1="163.06" y1="277.2" x2="163.06" y2="279.4" stroke="#454545" stroke-width="0.8"/>
<text transform="translate(164.76 282.1) rotate(-90)" text-anchor="end" font-size="4.8" fill="#3d3d3d">A*74:01</text>
<text x="89.9" y="307.7" font-size="6.8" font-weight="bold" fill="#222" textLength="8.1" lengthAdjust="spacingAndGlyphs">HLA</text>
<text x="98.9" y="307.7" font-size="6.8" font-weight="bold" fill="#222" textLength="3.1" lengthAdjust="spacingAndGlyphs">A</text>
<text x="103.2" y="307.7" font-size="6.8" font-weight="bold" fill="#222" textLength="9.1" lengthAdjust="spacingAndGlyphs">Type</text>
<text transform="translate(18.6 223.1) rotate(-90)" text-anchor="middle" font-size="6.5" font-weight="bold" fill="#4a4a4a" textLength="20.0" lengthAdjust="spacingAndGlyphs">Proportion</text>
<text x="0.4" y="164.3" font-size="10.4" font-weight="bold" fill="#000">D</text>
<rect x="210.45" y="173.4" width="4.49" height="24.4" fill="#0F4B84"/>
<rect x="210.45" y="197.8" width="4.49" height="22" fill="#C8062A"/>
<rect x="210.45" y="219.8" width="4.49" height="52.6" fill="#F6BF00"/>
<rect x="215.43" y="173.4" width="4.49" height="28.3" fill="#0F4B84"/>
<rect x="215.43" y="201.7" width="4.49" height="18.8" fill="#C8062A"/>
<rect x="215.43" y="220.5" width="4.49" height="51.9" fill="#F6BF00"/>
<rect x="220.42" y="173.4" width="4.49" height="21.8" fill="#0F4B84"/>
<rect x="220.42" y="195.2" width="4.49" height="22" fill="#C8062A"/>
<rect x="220.42" y="217.2" width="4.49" height="55.2" fill="#F6BF00"/>
<rect x="225.4" y="173.4" width="4.49" height="32.2" fill="#0F4B84"/>
<rect x="225.4" y="205.6" width="4.49" height="19" fill="#C8062A"/>
<rect x="225.4" y="224.6" width="4.49" height="47.8" fill="#F6BF00"/>
<rect x="230.39" y="173.4" width="4.49" height="32.2" fill="#0F4B84"/>
<rect x="230.39" y="205.6" width="4.49" height="19.4" fill="#C8062A"/>
<rect x="230.39" y="225" width="4.49" height="47.4" fill="#F6BF00"/>
<rect x="235.37" y="173.4" width="4.49" height="32.2" fill="#0F4B84"/>
<rect x="235.37" y="205.6" width="4.49" height="19.8" fill="#C8062A"/>
<rect x="235.37" y="225.4" width="4.49" height="47" fill="#F6BF00"/>
<rect x="240.36" y="173.4" width="4.49" height="32.2" fill="#0F4B84"/>
<rect x="240.36" y="205.6" width="4.49" height="20.3" fill="#C8062A"/>
<rect x="240.36" y="225.9" width="4.49" height="46.5" fill="#F6BF00"/>
<rect x="245.34" y="173.4" width="4.49" height="26.4" fill="#0F4B84"/>
<rect x="245.34" y="199.8" width="4.49" height="20.9" fill="#C8062A"/>
<rect x="245.34" y="220.7" width="4.49" height="51.7" fill="#F6BF00"/>
<rect x="250.33" y="173.4" width="4.49" height="27" fill="#0F4B84"/>
<rect x="250.33" y="200.4" width="4.49" height="23.3" fill="#C8062A"/>
<rect x="250.33" y="223.7" width="4.49" height="48.7" fill="#F6BF00"/>
<rect x="255.31" y="173.4" width="4.49" height="30.9" fill="#0F4B84"/>
<rect x="255.31" y="204.3" width="4.49" height="21.6" fill="#C8062A"/>
<rect x="255.31" y="225.9" width="4.49" height="46.5" fill="#F6BF00"/>
<rect x="260.3" y="173.4" width="4.49" height="32.2" fill="#0F4B84"/>
<rect x="260.3" y="205.6" width="4.49" height="20.3" fill="#C8062A"/>
<rect x="260.3" y="225.9" width="4.49" height="46.5" fill="#F6BF00"/>
<rect x="265.28" y="173.4" width="4.49" height="24.4" fill="#0F4B84"/>
<rect x="265.28" y="197.8" width="4.49" height="13.6" fill="#C8062A"/>
<rect x="265.28" y="211.4" width="4.49" height="61" fill="#F6BF00"/>
<rect x="270.27" y="173.4" width="4.49" height="29" fill="#0F4B84"/>
<rect x="270.27" y="202.4" width="4.49" height="17.4" fill="#C8062A"/>
<rect x="270.27" y="219.8" width="4.49" height="52.6" fill="#F6BF00"/>
<rect x="275.25" y="173.4" width="4.49" height="29" fill="#0F4B84"/>
<rect x="275.25" y="202.4" width="4.49" height="19.4" fill="#C8062A"/>
<rect x="275.25" y="221.8" width="4.49" height="50.6" fill="#F6BF00"/>
<rect x="280.24" y="173.4" width="4.49" height="29" fill="#0F4B84"/>
<rect x="280.24" y="202.4" width="4.49" height="18.4" fill="#C8062A"/>
<rect x="280.24" y="220.8" width="4.49" height="51.6" fill="#F6BF00"/>
<rect x="285.22" y="173.4" width="4.49" height="29" fill="#0F4B84"/>
<rect x="285.22" y="202.4" width="4.49" height="20" fill="#C8062A"/>
<rect x="285.22" y="222.4" width="4.49" height="50" fill="#F6BF00"/>
<rect x="290.21" y="173.4" width="4.49" height="29" fill="#0F4B84"/>
<rect x="290.21" y="202.4" width="4.49" height="19.4" fill="#C8062A"/>
<rect x="290.21" y="221.8" width="4.49" height="50.6" fill="#F6BF00"/>
<rect x="295.19" y="173.4" width="4.49" height="29" fill="#0F4B84"/>
<rect x="295.19" y="202.4" width="4.49" height="19.4" fill="#C8062A"/>
<rect x="295.19" y="221.8" width="4.49" height="50.6" fill="#F6BF00"/>
<rect x="300.18" y="173.4" width="4.49" height="29" fill="#0F4B84"/>
<rect x="300.18" y="202.4" width="4.49" height="19.1" fill="#C8062A"/>
<rect x="300.18" y="221.5" width="4.49" height="50.9" fill="#F6BF00"/>
<rect x="305.16" y="173.4" width="4.49" height="36.1" fill="#0F4B84"/>
<rect x="305.16" y="209.5" width="4.49" height="0.6" fill="#C8062A"/>
<rect x="305.16" y="210.1" width="4.49" height="62.3" fill="#F6BF00"/>
<rect x="310.15" y="173.4" width="4.49" height="24.4" fill="#0F4B84"/>
<rect x="310.15" y="197.8" width="4.49" height="21.4" fill="#C8062A"/>
<rect x="310.15" y="219.2" width="4.49" height="53.2" fill="#F6BF00"/>
<rect x="315.13" y="173.4" width="4.49" height="32.8" fill="#0F4B84"/>
<rect x="315.13" y="206.2" width="4.49" height="14.3" fill="#C8062A"/>
<rect x="315.13" y="220.5" width="4.49" height="51.9" fill="#F6BF00"/>
<rect x="320.12" y="173.4" width="4.49" height="32.8" fill="#0F4B84"/>
<rect x="320.12" y="206.2" width="4.49" height="19.7" fill="#C8062A"/>
<rect x="320.12" y="225.9" width="4.49" height="46.5" fill="#F6BF00"/>
<rect x="325.1" y="173.4" width="4.49" height="27.6" fill="#0F4B84"/>
<rect x="325.1" y="201" width="4.49" height="22.1" fill="#C8062A"/>
<rect x="325.1" y="223.1" width="4.49" height="49.3" fill="#F6BF00"/>
<rect x="330.09" y="173.4" width="4.49" height="32.2" fill="#0F4B84"/>
<rect x="330.09" y="205.6" width="4.49" height="19.4" fill="#C8062A"/>
<rect x="330.09" y="225" width="4.49" height="47.4" fill="#F6BF00"/>
<rect x="335.07" y="173.4" width="4.49" height="32.2" fill="#0F4B84"/>
<rect x="335.07" y="205.6" width="4.49" height="20.3" fill="#C8062A"/>
<rect x="335.07" y="225.9" width="4.49" height="46.5" fill="#F6BF00"/>
<path d="M209.7 169V277.2H340.3" fill="none" stroke="#454545" stroke-width="1"/>
<line x1="207.3" y1="272.4" x2="209.7" y2="272.4" stroke="#454545" stroke-width="0.8"/>
<text x="205" y="274.4" text-anchor="end" font-size="4.8" fill="#555555">0.00</text>
<line x1="207.3" y1="247.6" x2="209.7" y2="247.6" stroke="#454545" stroke-width="0.8"/>
<text x="205" y="249.6" text-anchor="end" font-size="4.8" fill="#555555">0.25</text>
<line x1="207.3" y1="222.9" x2="209.7" y2="222.9" stroke="#454545" stroke-width="0.8"/>
<text x="205" y="224.9" text-anchor="end" font-size="4.8" fill="#555555">0.50</text>
<line x1="207.3" y1="198.1" x2="209.7" y2="198.1" stroke="#454545" stroke-width="0.8"/>
<text x="205" y="200.1" text-anchor="end" font-size="4.8" fill="#555555">0.75</text>
<line x1="207.3" y1="173.4" x2="209.7" y2="173.4" stroke="#454545" stroke-width="0.8"/>
<text x="205" y="175.4" text-anchor="end" font-size="4.8" fill="#555555">1.00</text>
<line x1="212.69" y1="277.2" x2="212.69" y2="279.4" stroke="#454545" stroke-width="0.8"/>
<text transform="translate(214.39 282.1) rotate(-90)" text-anchor="end" font-size="4.8" fill="#3d3d3d">B*07:02</text>
<line x1="217.68" y1="277.2" x2="217.68" y2="279.4" stroke="#454545" stroke-width="0.8"/>
<text transform="translate(219.38 282.1) rotate(-90)" text-anchor="end" font-size="4.8" fill="#3d3d3d">B*08:01</text>
<line x1="222.66" y1="277.2" x2="222.66" y2="279.4" stroke="#454545" stroke-width="0.8"/>
<text transform="translate(224.36 282.1) rotate(-90)" text-anchor="end" font-size="4.8" fill="#3d3d3d">B*13:01</text>
<line x1="227.65" y1="277.2" x2="227.65" y2="279.4" stroke="#454545" stroke-width="0.8"/>
<text transform="translate(229.35 282.1) rotate(-90)" text-anchor="end" font-size="4.8" fill="#3d3d3d">B*13:02</text>
<line x1="232.63" y1="277.2" x2="232.63" y2="279.4" stroke="#454545" stroke-width="0.8"/>
<text transform="translate(234.33 282.1) rotate(-90)" text-anchor="end" font-size="4.8" fill="#3d3d3d">B*15:01</text>
<line x1="237.62" y1="277.2" x2="237.62" y2="279.4" stroke="#454545" stroke-width="0.8"/>
<text transform="translate(239.32 282.1) rotate(-90)" text-anchor="end" font-size="4.8" fill="#3d3d3d">B*15:02</text>
<line x1="242.6" y1="277.2" x2="242.6" y2="279.4" stroke="#454545" stroke-width="0.8"/>
<text transform="translate(244.3 282.1) rotate(-90)" text-anchor="end" font-size="4.8" fill="#3d3d3d">B*15:11</text>
<line x1="247.59" y1="277.2" x2="247.59" y2="279.4" stroke="#454545" stroke-width="0.8"/>
<text transform="translate(249.29 282.1) rotate(-90)" text-anchor="end" font-size="4.8" fill="#3d3d3d">B*15:18</text>
<line x1="252.57" y1="277.2" x2="252.57" y2="279.4" stroke="#454545" stroke-width="0.8"/>
<text transform="translate(254.27 282.1) rotate(-90)" text-anchor="end" font-size="4.8" fill="#3d3d3d">B*18:01</text>
<line x1="257.56" y1="277.2" x2="257.56" y2="279.4" stroke="#454545" stroke-width="0.8"/>
<text transform="translate(259.26 282.1) rotate(-90)" text-anchor="end" font-size="4.8" fill="#3d3d3d">B*27:05</text>
<line x1="262.54" y1="277.2" x2="262.54" y2="279.4" stroke="#454545" stroke-width="0.8"/>
<text transform="translate(264.24 282.1) rotate(-90)" text-anchor="end" font-size="4.8" fill="#3d3d3d">B*35:01</text>
<line x1="267.53" y1="277.2" x2="267.53" y2="279.4" stroke="#454545" stroke-width="0.8"/>
<text transform="translate(269.23 282.1) rotate(-90)" text-anchor="end" font-size="4.8" fill="#3d3d3d">B*35:03</text>
<line x1="272.51" y1="277.2" x2="272.51" y2="279.4" stroke="#454545" stroke-width="0.8"/>
<text transform="translate(274.21 282.1) rotate(-90)" text-anchor="end" font-size="4.8" fill="#3d3d3d">B*37:01</text>
<line x1="277.5" y1="277.2" x2="277.5" y2="279.4" stroke="#454545" stroke-width="0.8"/>
<text transform="translate(279.2 282.1) rotate(-90)" text-anchor="end" font-size="4.8" fill="#3d3d3d">B*38:02</text>
<line x1="282.48" y1="277.2" x2="282.48" y2="279.4" stroke="#454545" stroke-width="0.8"/>
<text transform="translate(284.18 282.1) rotate(-90)" text-anchor="end" font-size="4.8" fill="#3d3d3d">B*39:01</text>
<line x1="287.47" y1="277.2" x2="287.47" y2="279.4" stroke="#454545" stroke-width="0.8"/>
<text transform="translate(289.17 282.1) rotate(-90)" text-anchor="end" font-size="4.8" fill="#3d3d3d">B*40:01</text>
<line x1="292.45" y1="277.2" x2="292.45" y2="279.4" stroke="#454545" stroke-width="0.8"/>
<text transform="translate(294.15 282.1) rotate(-90)" text-anchor="end" font-size="4.8" fill="#3d3d3d">B*40:02</text>
<line x1="297.44" y1="277.2" x2="297.44" y2="279.4" stroke="#454545" stroke-width="0.8"/>
<text transform="translate(299.14 282.1) rotate(-90)" text-anchor="end" font-size="4.8" fill="#3d3d3d">B*40:06</text>
<line x1="302.42" y1="277.2" x2="302.42" y2="279.4" stroke="#454545" stroke-width="0.8"/>
<text transform="translate(304.12 282.1) rotate(-90)" text-anchor="end" font-size="4.8" fill="#3d3d3d">B*44:02</text>
<line x1="307.41" y1="277.2" x2="307.41" y2="279.4" stroke="#454545" stroke-width="0.8"/>
<text transform="translate(309.11 282.1) rotate(-90)" text-anchor="end" font-size="4.8" fill="#3d3d3d">B*44:03</text>
<line x1="312.39" y1="277.2" x2="312.39" y2="279.4" stroke="#454545" stroke-width="0.8"/>
<text transform="translate(314.09 282.1) rotate(-90)" text-anchor="end" font-size="4.8" fill="#3d3d3d">B*46:01</text>
<line x1="317.38" y1="277.2" x2="317.38" y2="279.4" stroke="#454545" stroke-width="0.8"/>
<text transform="translate(319.08 282.1) rotate(-90)" text-anchor="end" font-size="4.8" fill="#3d3d3d">B*48:01</text>
<line x1="322.36" y1="277.2" x2="322.36" y2="279.4" stroke="#454545" stroke-width="0.8"/>
<text transform="translate(324.06 282.1) rotate(-90)" text-anchor="end" font-size="4.8" fill="#3d3d3d">B*51:01</text>
<line x1="327.35" y1="277.2" x2="327.35" y2="279.4" stroke="#454545" stroke-width="0.8"/>
<text transform="translate(329.05 282.1) rotate(-90)" text-anchor="end" font-size="4.8" fill="#3d3d3d">B*52:01</text>
<line x1="332.33" y1="277.2" x2="332.33" y2="279.4" stroke="#454545" stroke-width="0.8"/>
<text transform="translate(334.03 282.1) rotate(-90)" text-anchor="end" font-size="4.8" fill="#3d3d3d">B*54:01</text>
<line x1="337.32" y1="277.2" x2="337.32" y2="279.4" stroke="#454545" stroke-width="0.8"/>
<text transform="translate(339.02 282.1) rotate(-90)" text-anchor="end" font-size="4.8" fill="#3d3d3d">B*58:01</text>
<text x="263.9" y="307.7" font-size="6.8" font-weight="bold" fill="#222" textLength="8.1" lengthAdjust="spacingAndGlyphs">HLA</text>
<text x="272.9" y="307.7" font-size="6.8" font-weight="bold" fill="#222" textLength="3.1" lengthAdjust="spacingAndGlyphs">B</text>
<text x="277.2" y="307.7" font-size="6.8" font-weight="bold" fill="#222" textLength="9.1" lengthAdjust="spacingAndGlyphs">Type</text>
<text transform="translate(192 223.1) rotate(-90)" text-anchor="middle" font-size="6.5" font-weight="bold" fill="#4a4a4a" textLength="20.0" lengthAdjust="spacingAndGlyphs">Proportion</text>
<text x="179" y="164.3" font-size="10.4" font-weight="bold" fill="#000">E</text>
<rect x="392.03" y="173.4" width="16.35" height="30.6" fill="#0F4B84"/>
<rect x="392.03" y="204" width="16.35" height="22" fill="#C8062A"/>
<rect x="392.03" y="226" width="16.35" height="46.4" fill="#F6BF00"/>
<rect x="410.2" y="173.4" width="16.35" height="30.6" fill="#0F4B84"/>
<rect x="410.2" y="204" width="16.35" height="20.9" fill="#C8062A"/>
<rect x="410.2" y="224.9" width="16.35" height="47.5" fill="#F6BF00"/>
<rect x="428.37" y="173.4" width="16.35" height="26.5" fill="#0F4B84"/>
<rect x="428.37" y="199.9" width="16.35" height="22" fill="#C8062A"/>
<rect x="428.37" y="221.9" width="16.35" height="50.5" fill="#F6BF00"/>
<rect x="446.54" y="173.4" width="16.35" height="27" fill="#0F4B84"/>
<rect x="446.54" y="200.4" width="16.35" height="21.6" fill="#C8062A"/>
<rect x="446.54" y="222" width="16.35" height="50.4" fill="#F6BF00"/>
<rect x="464.71" y="173.4" width="16.35" height="29.7" fill="#0F4B84"/>
<rect x="464.71" y="203.1" width="16.35" height="19.5" fill="#C8062A"/>
<rect x="464.71" y="222.6" width="16.35" height="49.8" fill="#F6BF00"/>
<rect x="482.88" y="173.4" width="16.35" height="32.2" fill="#0F4B84"/>
<rect x="482.88" y="205.6" width="16.35" height="19.7" fill="#C8062A"/>
<rect x="482.88" y="225.3" width="16.35" height="47.1" fill="#F6BF00"/>
<rect x="501.05" y="173.4" width="16.35" height="31.1" fill="#0F4B84"/>
<rect x="501.05" y="204.5" width="16.35" height="19.9" fill="#C8062A"/>
<rect x="501.05" y="224.4" width="16.35" height="48" fill="#F6BF00"/>
<path d="M389.3 169V277.2H520.1" fill="none" stroke="#454545" stroke-width="1"/>
<line x1="386.9" y1="272.4" x2="389.3" y2="272.4" stroke="#454545" stroke-width="0.8"/>
<text x="384.6" y="274.4" text-anchor="end" font-size="4.8" fill="#555555">0.00</text>
<line x1="386.9" y1="247.6" x2="389.3" y2="247.6" stroke="#454545" stroke-width="0.8"/>
<text x="384.6" y="249.6" text-anchor="end" font-size="4.8" fill="#555555">0.25</text>
<line x1="386.9" y1="222.9" x2="389.3" y2="222.9" stroke="#454545" stroke-width="0.8"/>
<text x="384.6" y="224.9" text-anchor="end" font-size="4.8" fill="#555555">0.50</text>
<line x1="386.9" y1="198.1" x2="389.3" y2="198.1" stroke="#454545" stroke-width="0.8"/>
<text x="384.6" y="200.1" text-anchor="end" font-size="4.8" fill="#555555">0.75</text>
<line x1="386.9" y1="173.4" x2="389.3" y2="173.4" stroke="#454545" stroke-width="0.8"/>
<text x="384.6" y="175.4" text-anchor="end" font-size="4.8" fill="#555555">1.00</text>
<line x1="400.2" y1="277.2" x2="400.2" y2="279.4" stroke="#454545" stroke-width="0.8"/>
<text transform="translate(401.9 282.1) rotate(-90)" text-anchor="end" font-size="4.8" fill="#3d3d3d">C*03:03</text>
<line x1="418.37" y1="277.2" x2="418.37" y2="279.4" stroke="#454545" stroke-width="0.8"/>
<text transform="translate(420.07 282.1) rotate(-90)" text-anchor="end" font-size="4.8" fill="#3d3d3d">C*05:01</text>
<line x1="436.54" y1="277.2" x2="436.54" y2="279.4" stroke="#454545" stroke-width="0.8"/>
<text transform="translate(438.24 282.1) rotate(-90)" text-anchor="end" font-size="4.8" fill="#3d3d3d">C*06:02</text>
<line x1="454.71" y1="277.2" x2="454.71" y2="279.4" stroke="#454545" stroke-width="0.8"/>
<text transform="translate(456.41 282.1) rotate(-90)" text-anchor="end" font-size="4.8" fill="#3d3d3d">C*07:01</text>
<line x1="472.88" y1="277.2" x2="472.88" y2="279.4" stroke="#454545" stroke-width="0.8"/>
<text transform="translate(474.58 282.1) rotate(-90)" text-anchor="end" font-size="4.8" fill="#3d3d3d">C*07:02</text>
<line x1="491.05" y1="277.2" x2="491.05" y2="279.4" stroke="#454545" stroke-width="0.8"/>
<text transform="translate(492.75 282.1) rotate(-90)" text-anchor="end" font-size="4.8" fill="#3d3d3d">C*14:02</text>
<line x1="509.22" y1="277.2" x2="509.22" y2="279.4" stroke="#454545" stroke-width="0.8"/>
<text transform="translate(510.92 282.1) rotate(-90)" text-anchor="end" font-size="4.8" fill="#3d3d3d">C*15:02</text>
<text x="443.6" y="307.7" font-size="6.8" font-weight="bold" fill="#222" textLength="8.1" lengthAdjust="spacingAndGlyphs">HLA</text>
<text x="452.6" y="307.7" font-size="6.8" font-weight="bold" fill="#222" textLength="3.1" lengthAdjust="spacingAndGlyphs">C</text>
<text x="456.9" y="307.7" font-size="6.8" font-weight="bold" fill="#222" textLength="9.1" lengthAdjust="spacingAndGlyphs">Type</text>
<text transform="translate(371.5 223.1) rotate(-90)" text-anchor="middle" font-size="6.5" font-weight="bold" fill="#4a4a4a" textLength="20.0" lengthAdjust="spacingAndGlyphs">Proportion</text>
<text x="357" y="164.3" font-size="10.4" font-weight="bold" fill="#000">F</text>
<text x="42.4" y="20.3" font-size="4.6" fill="#333" textLength="20.2" lengthAdjust="spacingAndGlyphs">mRNA type</text>
<rect x="42.5" y="24.3" width="4" height="4" fill="#0F4B84"/>
<text x="49.0" y="27.9" font-size="4.5" fill="#333" textLength="9.7" lengthAdjust="spacingAndGlyphs">GvH</text>
<rect x="61.5" y="24.3" width="4" height="4" fill="#C8062A"/>
<text x="67.9" y="27.9" font-size="4.5" fill="#333" textLength="9.9" lengthAdjust="spacingAndGlyphs">Both</text>
<rect x="80.4" y="24.3" width="4" height="4" fill="#F6BF00"/>
<text x="87.1" y="27.9" font-size="4.5" fill="#333" textLength="7.7" lengthAdjust="spacingAndGlyphs">GvL</text>
</svg></body></html>
